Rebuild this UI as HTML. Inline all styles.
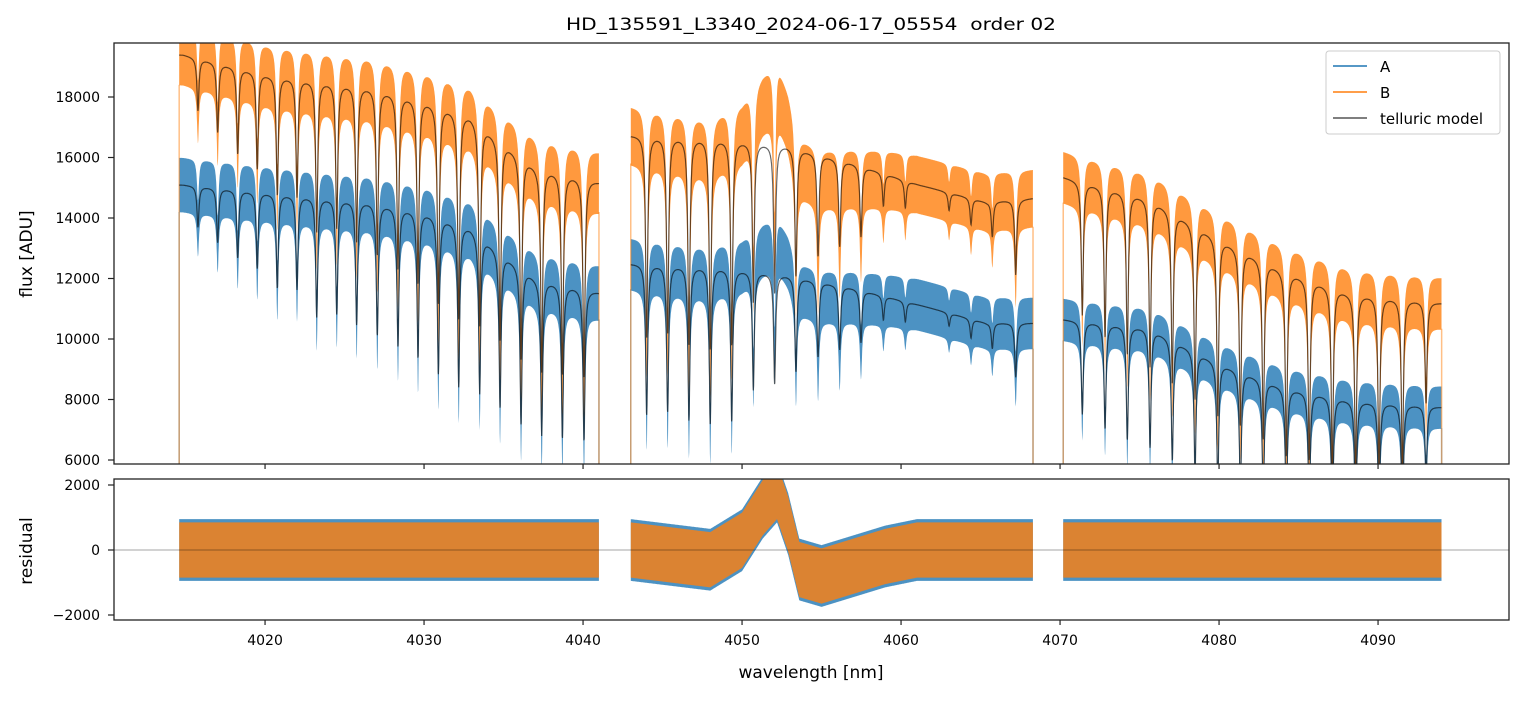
<!DOCTYPE html>
<html><head><meta charset="utf-8"><style>
body{margin:0;background:#fff}
text{font-family:"DejaVu Sans","Liberation Sans",sans-serif;fill:#000}
</style></head><body>
<svg id="chart" width="1523" height="696" xmlns="http://www.w3.org/2000/svg">
<defs>
<clipPath id="clipMain"><rect x="114" y="43" width="1395" height="421"/></clipPath>
<clipPath id="clipRes"><rect x="114" y="479" width="1395" height="141"/></clipPath>
</defs>
<rect width="1523" height="696" fill="#fff"/>
<text x="811" y="30" font-size="17" text-anchor="middle" textLength="490" lengthAdjust="spacingAndGlyphs" xml:space="preserve">HD_135591_L3340_2024-06-17_05554  order 02</text>
<g id="mainPlot" clip-path="url(#clipMain)"></g>
<g id="resPlot" clip-path="url(#clipRes)"></g>
<rect x="114" y="43" width="1395" height="421" fill="none" stroke="#222" stroke-width="1.3"/>
<rect x="114" y="479" width="1395" height="141" fill="none" stroke="#222" stroke-width="1.3"/>
<g id="axes"></g>
<text transform="translate(32,254) rotate(-90)" font-size="17" text-anchor="middle">flux [ADU]</text>
<text transform="translate(32,551) rotate(-90)" font-size="17" text-anchor="middle">residual</text>
<text x="811" y="678" font-size="17" text-anchor="middle">wavelength [nm]</text>
<g>
<rect x="1326" y="51" width="174" height="83" rx="3" fill="#fff" fill-opacity="0.8" stroke="#ccc"/>
<line x1="1333" y1="66" x2="1367" y2="66" stroke="#1f77b4" stroke-width="1.5"/>
<text x="1380" y="72" font-size="15">A</text>
<line x1="1333" y1="92" x2="1367" y2="92" stroke="#ff7f0e" stroke-width="1.5"/>
<text x="1380" y="98" font-size="15">B</text>
<line x1="1333" y1="118" x2="1367" y2="118" stroke="#555" stroke-width="1.5"/>
<text x="1380" y="124" font-size="15">telluric model</text>
</g>
</svg>
<script>
const segStart=[4014.6,4043.0,4070.2];
const segEnd=[4041.0,4068.3,4094.0];
const lineWl=[4015.78,4017.02,4018.28,4019.51,4020.77,4022.01,4023.25,4024.51,4025.76,4027.06,4028.36,4029.62,4030.90,4032.18,4033.50,4034.78,4036.10,4037.40,4038.70,4040.06,
4044.00,4045.32,4046.66,4048.00,4049.35,4050.71,4052.05,4053.39,4054.78,4056.14,4057.48,4058.89,4060.27,4063.02,4064.40,4065.74,4067.21,
4071.40,4072.83,4074.23,4075.66,4077.06,4078.49,4079.92,4081.34,4082.78,4084.23,4085.67,4087.12,4088.59,4090.06,4091.53,4093.02];
const lineDepth=[0.09,0.12,0.15,0.17,0.21,0.21,0.27,0.26,0.28,0.30,0.32,0.34,0.37,0.39,0.39,0.40,0.42,0.43,0.43,0.43,
0.40,0.39,0.41,0.42,0.41,0.32,0.30,0.26,0.21,0.18,0.15,0.07,0.06,0.04,0.06,0.08,0.17,
0.29,0.33,0.36,0.38,0.40,0.42,0.44,0.45,0.47,0.50,0.50,0.52,0.52,0.50,0.50,0.30];
const contWl=[4014.6,4014.86,4020.3,4026.6,4030.0,4032.9,4035.0,4037.1,4041.0,
4043.0,4043.37,4048.6,4052.8,4057.0,4061.2,4065.4,4068.3,
4070.2,4075.66,4079.85,4084.04,4088.24,4094.0];
const contA=[15100,15100,14830,14530,14200,13700,12800,12000,11550,
12500,12500,12380,12120,11690,11120,10530,10530,
10650,10360,9240,8410,7980,7750];
const contB=[19400,19400,18730,18330,17900,17400,16500,15700,15200,
16750,16750,16640,16410,15820,15090,14530,14660,
15360,14660,13370,12280,11520,11190];
const noiseA=[900,850,700];
const noiseB=[1000,950,850];
const bumpScaleA=0.6;
const bumpScaleB=1.0;
const resOffWl=[4043,4048,4050,4051.3,4052.2,4052.9,4053.6,4055,4057,4059,4061];
const resOffVal=[0,-300,300,1300,1800,800,-600,-800,-500,-200,0];
const resNoiseA=[950,950,950];
const resNoiseB=[850,850,850];
const xTicks=[4020,4030,4040,4050,4060,4070,4080,4090];
const yTicks=[6000,8000,10000,12000,14000,16000,18000];
const rTicks=[-2000,0,2000];

const X=w=>114+(w-4010.5)*15.9;
const Y=v=>97+(18000-v)/1000*30.25;
const R=v=>550-v/1000*32.5;
const NS="http://www.w3.org/2000/svg";
function interp(xs,ys,x){if(x<=xs[0])return ys[0];for(let i=1;i<xs.length;i++){if(x<=xs[i]){const t=(x-xs[i-1])/(xs[i]-xs[i-1]);return ys[i-1]+t*(ys[i]-ys[i-1]);}}return ys[ys.length-1];}
function contAt(arr,w,s){const lo=[0,9,17][s],hi=[9,17,23][s];return interp(contWl.slice(lo,hi),arr.slice(lo,hi),w);}
function trans(w){let f=1;for(let i=0;i<lineWl.length;i++){const d=(w-lineWl[i])/0.075;f*=1-lineDepth[i]/(1+d*d);}return f;}
function offset(w){return interp(resOffWl,resOffVal,w);}
function mk(tag,attrs,parent){const e=document.createElementNS(NS,tag);for(const k in attrs)e.setAttribute(k,attrs[k]);parent.appendChild(e);return e;}
const main=document.getElementById('mainPlot'),res=document.getElementById('resPlot'),axes=document.getElementById('axes');
const step=0.015;
const bands=[['A',contA,noiseA,'#1f77b4',bumpScaleA],['B',contB,noiseB,'#ff7f0e',bumpScaleB]];
const models=[];
bands.forEach(([nm,cont,noise,col,k])=>{
 for(let s=0;s<3;s++){
  let up=[],dn=[],md=[];
  for(let w=segStart[s];w<=segEnd[s]+1e-9;w+=step){
   const t=trans(w);const m=contAt(cont,w,s)*t;const o=offset(w)*k;
   up.push(X(w).toFixed(1)+','+Y(m+o+noise[s]).toFixed(1));
   dn.push(X(w).toFixed(1)+','+Y(m+o-noise[s]*(1+0.8*(1-t))).toFixed(1));
   md.push(X(w).toFixed(1)+','+Y(m).toFixed(1));
  }
  const p=mk('polygon',{points:up.concat(dn.reverse()).join(' '),fill:col,'fill-opacity':0.8},main);
  
  
  [segStart[s],segEnd[s]].forEach(w=>{const l=mk('line',{x1:X(w),x2:X(w),y1:Y(contAt(cont,w,s)-noise[s]),y2:464,stroke:col,'stroke-opacity':0.5,'stroke-width':1.5},main);
   
   });
  models.push(['model-'+nm.toLowerCase()+'-'+(s+1),md.join(' ')]);
 }
});
models.forEach(([n,pts])=>{const pl=mk('polyline',{points:pts,fill:'none',stroke:'#000','stroke-opacity':0.6,'stroke-width':1.2},main);
 
 });
[['a',resNoiseA,'#1f77b4'],['b',resNoiseB,'#ff7f0e']].forEach(([nm,noise,col])=>{
 for(let s=0;s<3;s++){
  let up=[],dn=[];
  for(let w=segStart[s];w<=segEnd[s]+1e-9;w+=step){const o=offset(w);
   up.push(X(w).toFixed(1)+','+R(o+noise[s]).toFixed(1));dn.push(X(w).toFixed(1)+','+R(o-noise[s]).toFixed(1));}
  const p=mk('polygon',{points:up.concat(dn.reverse()).join(' '),fill:col,'fill-opacity':0.8},res);
  
  
 }
});
const z2=mk('line',{x1:114,x2:1509,y1:R(0),y2:R(0),stroke:'#000','stroke-width':0.6,'stroke-opacity':0.7},res);


xTicks.forEach(t=>{
 [464,620].forEach(y0=>{const l=mk('line',{x1:X(t),x2:X(t),y1:y0,y2:y0+5,stroke:'#222','stroke-width':1.2},axes);
  
  });
 const tx=mk('text',{x:X(t),y:645,'font-size':14,'text-anchor':'middle'},axes);tx.textContent=t;
 
 
});
yTicks.forEach(t=>{const l=mk('line',{x1:108,x2:114,y1:Y(t),y2:Y(t),stroke:'#222','stroke-width':1.2},axes);
 
 
 const tx=mk('text',{x:100,y:Y(t)+5,'font-size':14,'text-anchor':'end'},axes);tx.textContent=t;
 
 });
rTicks.forEach(t=>{const l=mk('line',{x1:108,x2:114,y1:R(t),y2:R(t),stroke:'#222','stroke-width':1.2},axes);
 
 
 const tx=mk('text',{x:100,y:R(t)+5,'font-size':14,'text-anchor':'end'},axes);tx.textContent=(t<0?'\u2212'+(-t):t);
 
 });
</script>
</body></html>
